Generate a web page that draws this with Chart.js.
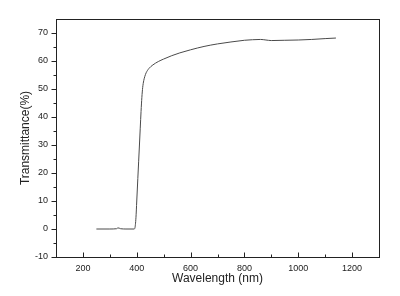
<!DOCTYPE html>
<html>
<head>
<meta charset="utf-8">
<script src="https://cdn.jsdelivr.net/npm/chart.js@4/dist/chart.umd.min.js"></script>
<style>
  html, body { margin: 0; padding: 0; background: #fff; }
  #wrap { width: 400px; height: 296px; }
</style>
</head>
<body>
<div id="wrap"><canvas id="chartLine"></canvas></div>
<script>
// values
const wavelength = [250, 300, 325, 330, 335, 340, 360, 390, 393, 397, 400, 404, 407, 410, 413, 416, 419, 422, 426, 430, 435, 445, 460, 480, 500, 530, 560, 600, 650, 700, 750, 800, 830, 860, 880, 900, 950, 1000, 1050, 1100, 1140]
const transmittance = [0, 0, 0.1, 0.4, 0.3, 0.1, 0, 0, 0.3, 4, 10, 18, 24, 30, 36, 42, 47, 50.5, 53, 54.5, 55.8, 57.3, 58.6, 59.8, 60.7, 61.9, 62.9, 64.0, 65.2, 66.1, 66.8, 67.4, 67.6, 67.7, 67.5, 67.3, 67.4, 67.5, 67.7, 68.0, 68.2]

const xTicks = [200, 400, 600, 800, 1000, 1200]
const xMinor = [300, 500, 700, 900, 1100]
const yTicks = [-10, 0, 10, 20, 30, 40, 50, 60, 70]
const yMinor = [-5, 5, 15, 25, 35, 45, 55, 65]

const ink = '#222'
const font = 'Liberation Sans, Arial, sans-serif'

// box round the plot plus tick marks, placed by the scales
const frame = {
  id: 'frame',
  afterDraw (chart) {
    const { ctx, chartArea: a, scales: { x, y } } = chart
    const line = (x1, y1, x2, y2) => { ctx.beginPath(); ctx.moveTo(x1, y1); ctx.lineTo(x2, y2); ctx.stroke() }
    ctx.save()
    ctx.strokeStyle = ink
    ctx.lineWidth = 1
    ctx.strokeRect(Math.round(a.left) + 0.5, Math.round(a.top) + 0.5, Math.round(a.width), Math.round(a.height))
    const b = Math.round(a.bottom) + 0.5
    const l = Math.round(a.left) + 0.5
    xTicks.forEach(v => { const p = Math.round(x.getPixelForValue(v)) + 0.5; line(p, b, p, b - 5) })
    xMinor.forEach(v => { const p = Math.round(x.getPixelForValue(v)) + 0.5; line(p, b, p, b - 3) })
    yTicks.forEach(v => { const p = Math.round(y.getPixelForValue(v)) + 0.5; line(l, p, l - 5, p) })
    yMinor.forEach(v => { const p = Math.round(y.getPixelForValue(v)) + 0.5; line(l, p, l - 3, p) })
    ctx.restore()
  }
}

const config = {
  type: 'line',
  data: {
    datasets: [{
      label: 'Transmittance',
      data: wavelength.map((w, i) => ({ x: w, y: transmittance[i] })),
      borderColor: '#4a4a4a',
      borderWidth: 1,
      pointRadius: 0,
      cubicInterpolationMode: 'monotone',
      fill: false
    }]
  },
  options: {
    responsive: true,
    maintainAspectRatio: false,
    animation: false,
    layout: { padding: { top: 19, right: 21, left: 0, bottom: 0 } },
    plugins: { legend: { display: false }, tooltip: { enabled: false } },
    scales: {
      x: {
        type: 'linear',
        min: 100,
        max: 1300,
        afterBuildTicks: s => { s.ticks = xTicks.map(v => ({ value: v })) },
        afterFit: s => { s.height = 39 },
        grid: { display: false, drawTicks: false },
        border: { display: false },
        ticks: { padding: 6, color: ink, font: { family: font, size: 9 }, maxRotation: 0, callback: v => String(v) },
        title: { display: true, text: 'Wavelength (nm)', color: ink, font: { family: font, size: 12 }, padding: { top: 0, bottom: 10 } }
      },
      y: {
        type: 'linear',
        min: -10,
        max: 75,
        afterBuildTicks: s => { s.ticks = yTicks.map(v => ({ value: v })) },
        afterFit: s => { s.width = 56 },
        grid: { display: false, drawTicks: false },
        border: { display: false },
        ticks: { padding: 8, color: ink, font: { family: font, size: 9 }, callback: v => String(v) },
        title: { display: true, text: 'Transmittance(%)', color: ink, font: { family: font, size: 12 }, padding: { top: 18, bottom: 0 } }
      }
    }
  },
  plugins: [frame]
}

new Chart(document.getElementById('chartLine').getContext('2d'), config)
</script>
</body>
</html>
